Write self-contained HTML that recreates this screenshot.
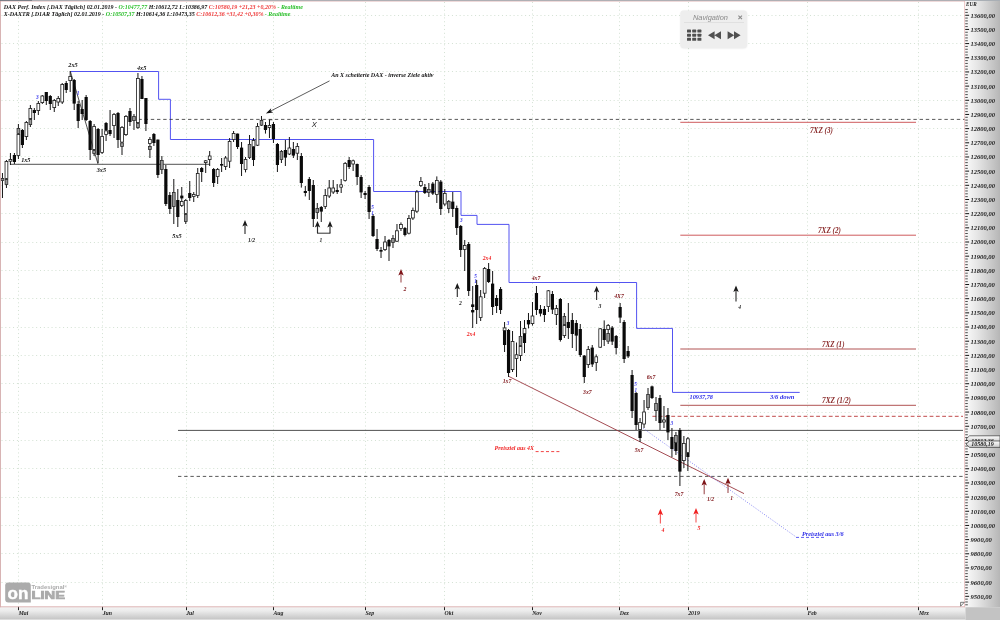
<!DOCTYPE html>
<html lang="de"><head><meta charset="utf-8"><title>DAX Perf. Index - Tradesignal Online</title>
<style>html,body{margin:0;padding:0;background:#fff;overflow:hidden}svg{display:block}text{font-family:"Liberation Serif", "DejaVu Serif", serif;font-style:italic;font-weight:bold}.s{font-family:"Liberation Sans", "DejaVu Sans", sans-serif}</style></head><body>
<svg width="1000" height="620" viewBox="0 0 1000 620">
<defs><linearGradient id="gr" x1="0" y1="0" x2="1" y2="0"><stop offset="0" stop-color="#fbfbfb"/><stop offset="0.35" stop-color="#e6e6e6"/><stop offset="1" stop-color="#b6b6b6"/></linearGradient><linearGradient id="gb" x1="0" y1="0" x2="0" y2="1"><stop offset="0" stop-color="#c9c9c9"/><stop offset="0.05" stop-color="#f2f2f2"/><stop offset="0.3" stop-color="#ececec"/><stop offset="0.93" stop-color="#c6c6c6"/><stop offset="0.96" stop-color="#dcdcdc"/><stop offset="1" stop-color="#e0e0e0"/></linearGradient><linearGradient id="gt" x1="0" y1="0" x2="1" y2="0"><stop offset="0" stop-color="#66727c"/><stop offset="0.5" stop-color="#7a858e"/><stop offset="1" stop-color="#a4acb3"/></linearGradient><linearGradient id="gm" x1="0" y1="0" x2="0" y2="1"><stop offset="0" stop-color="#ffffff"/><stop offset="1" stop-color="#c8c8c8"/></linearGradient><filter id="sh" x="-10%" y="-10%" width="120%" height="130%"><feGaussianBlur stdDeviation="0.9"/></filter></defs>
<rect x="0" y="0" width="1000" height="620" fill="#ffffff"/>
<g stroke="#d3e1d3" stroke-width="1" stroke-dasharray="1 2.85" fill="none">
<line x1="1.5" y1="15.5" x2="965" y2="15.5"/>
<line x1="1.5" y1="43.5" x2="965" y2="43.5"/>
<line x1="1.5" y1="71.5" x2="965" y2="71.5"/>
<line x1="1.5" y1="100.5" x2="965" y2="100.5"/>
<line x1="1.5" y1="128.5" x2="965" y2="128.5"/>
<line x1="1.5" y1="156.5" x2="965" y2="156.5"/>
<line x1="1.5" y1="185.5" x2="965" y2="185.5"/>
<line x1="1.5" y1="213.5" x2="965" y2="213.5"/>
<line x1="1.5" y1="242.5" x2="965" y2="242.5"/>
<line x1="1.5" y1="270.5" x2="965" y2="270.5"/>
<line x1="1.5" y1="298.5" x2="965" y2="298.5"/>
<line x1="1.5" y1="327.5" x2="965" y2="327.5"/>
<line x1="1.5" y1="355.5" x2="965" y2="355.5"/>
<line x1="1.5" y1="383.5" x2="965" y2="383.5"/>
<line x1="1.5" y1="412.5" x2="965" y2="412.5"/>
<line x1="1.5" y1="440.5" x2="965" y2="440.5"/>
<line x1="1.5" y1="468.5" x2="965" y2="468.5"/>
<line x1="1.5" y1="497.5" x2="965" y2="497.5"/>
<line x1="1.5" y1="525.5" x2="965" y2="525.5"/>
<line x1="1.5" y1="553.5" x2="965" y2="553.5"/>
<line x1="1.5" y1="582.5" x2="965" y2="582.5"/>
<line x1="18.5" y1="2" x2="18.5" y2="606.2"/>
<line x1="102.5" y1="2" x2="102.5" y2="606.2"/>
<line x1="186.5" y1="2" x2="186.5" y2="606.2"/>
<line x1="273.5" y1="2" x2="273.5" y2="606.2"/>
<line x1="365.5" y1="2" x2="365.5" y2="606.2"/>
<line x1="444.5" y1="2" x2="444.5" y2="606.2"/>
<line x1="532.5" y1="2" x2="532.5" y2="606.2"/>
<line x1="619.5" y1="2" x2="619.5" y2="606.2"/>
<line x1="688.5" y1="2" x2="688.5" y2="606.2"/>
<line x1="807.5" y1="2" x2="807.5" y2="606.2"/>
<line x1="918.5" y1="2" x2="918.5" y2="606.2"/>
</g>
<polyline fill="none" stroke="#4a4af0" stroke-width="0.95" points="70.4,71.5 158.6,71.5 158.6,99.3 170.4,99.3 170.4,139.5 373.6,139.5 373.6,191.5 461,191.5 461,215.4 477,215.4 477,224.4 509,224.4 509,282.5 636.6,282.5 636.6,328.4 672.5,328.4 672.5,392.4 799.7,392.4"/>
<line x1="10.4" y1="164.3" x2="210" y2="164.3" stroke="#333" stroke-width="0.85"/>
<line x1="178" y1="430.4" x2="963" y2="430.4" stroke="#333" stroke-width="0.85"/>
<line x1="138.4" y1="119.4" x2="965" y2="119.4" stroke="#2e2e2e" stroke-width="0.8" stroke-dasharray="3.4 2.8"/>
<line x1="178" y1="476.4" x2="965" y2="476.4" stroke="#2e2e2e" stroke-width="0.8" stroke-dasharray="3.4 2.8"/>
<line x1="70.4" y1="71.5" x2="98" y2="164" stroke="#222" stroke-width="0.8"/>
<line x1="680.3" y1="122.3" x2="916" y2="122.3" stroke="#c8474b" stroke-width="0.9"/>
<line x1="680.3" y1="235.2" x2="916" y2="235.2" stroke="#c8474b" stroke-width="0.9"/>
<line x1="680.3" y1="349" x2="916" y2="349" stroke="#a8403f" stroke-width="0.9"/>
<line x1="680.3" y1="405.3" x2="916" y2="405.3" stroke="#a8403f" stroke-width="0.9"/>
<line x1="652.4" y1="416.3" x2="963" y2="416.3" stroke="#c04a4a" stroke-width="1" stroke-dasharray="3.8 2.5"/>
<line x1="509" y1="376.5" x2="744" y2="493.6" stroke="#9a3840" stroke-width="0.9"/>
<line x1="639" y1="425.4" x2="796" y2="536.9" stroke="#6a6af0" stroke-width="0.8" stroke-dasharray="1 1.6"/>
<line x1="796" y1="537.4" x2="826" y2="537.4" stroke="#4a4af0" stroke-width="0.9" stroke-dasharray="3 2"/>
<line x1="535.6" y1="451.6" x2="561" y2="451.6" stroke="#f03030" stroke-width="0.9" stroke-dasharray="3 2.2"/>
<polyline fill="none" stroke="#333" stroke-width="0.7" points="269.5,125 269.5,119.8 272.5,119.8"/>
<g shape-rendering="auto">
<line x1="2.46" y1="173" x2="2.46" y2="198" stroke="#151515" stroke-width="1"/>
<rect x="1.11" y="178.4" width="2.7" height="2.2" fill="#9a9a9a" stroke="#2a2a2a" stroke-width="0.8"/>
<line x1="6.45" y1="160" x2="6.45" y2="188" stroke="#151515" stroke-width="1"/>
<rect x="5.04" y="161.4" width="2.8" height="17.2" fill="#ffffff" stroke="#1a1a1a" stroke-width="0.8"/>
<rect x="5.1" y="179.4" width="2.7" height="5.2" fill="#9a9a9a" stroke="#2a2a2a" stroke-width="0.8"/>
<line x1="10.43" y1="153" x2="10.43" y2="165" stroke="#151515" stroke-width="1"/>
<rect x="9.03" y="159.4" width="2.8" height="1.8" fill="#ffffff" stroke="#1a1a1a" stroke-width="0.8"/>
<line x1="14.41" y1="153" x2="14.41" y2="164" stroke="#151515" stroke-width="1"/>
<rect x="12.81" y="155" width="3.2" height="7" fill="#0a0a0a"/>
<line x1="18.4" y1="124" x2="18.4" y2="159" stroke="#151515" stroke-width="1"/>
<rect x="17.05" y="128.4" width="2.7" height="5.2" fill="#9a9a9a" stroke="#2a2a2a" stroke-width="0.8"/>
<rect x="17" y="134.4" width="2.8" height="21.2" fill="#ffffff" stroke="#1a1a1a" stroke-width="0.8"/>
<line x1="22.39" y1="129" x2="22.39" y2="148" stroke="#151515" stroke-width="1"/>
<rect x="20.79" y="130" width="3.2" height="15" fill="#0a0a0a"/>
<line x1="26.37" y1="121" x2="26.37" y2="140" stroke="#151515" stroke-width="1"/>
<rect x="24.97" y="122.4" width="2.8" height="14.2" fill="#ffffff" stroke="#1a1a1a" stroke-width="0.8"/>
<line x1="30.36" y1="105" x2="30.36" y2="127" stroke="#151515" stroke-width="1"/>
<rect x="28.96" y="108.4" width="2.8" height="10.2" fill="#ffffff" stroke="#1a1a1a" stroke-width="0.8"/>
<rect x="29" y="119.4" width="2.7" height="5.2" fill="#9a9a9a" stroke="#2a2a2a" stroke-width="0.8"/>
<line x1="34.34" y1="108" x2="34.34" y2="120" stroke="#151515" stroke-width="1"/>
<rect x="32.74" y="110" width="3.2" height="3" fill="#0a0a0a"/>
<line x1="38.33" y1="101" x2="38.33" y2="115" stroke="#151515" stroke-width="1"/>
<rect x="36.93" y="103.4" width="2.8" height="7.2" fill="#ffffff" stroke="#1a1a1a" stroke-width="0.8"/>
<line x1="42.31" y1="95" x2="42.31" y2="104" stroke="#151515" stroke-width="1"/>
<rect x="40.91" y="96" width="2.8" height="6.6" fill="#ffffff" stroke="#1a1a1a" stroke-width="0.8"/>
<line x1="46.3" y1="92" x2="46.3" y2="105" stroke="#151515" stroke-width="1"/>
<rect x="44.7" y="92" width="3.2" height="9" fill="#0a0a0a"/>
<line x1="50.28" y1="95" x2="50.28" y2="110" stroke="#151515" stroke-width="1"/>
<rect x="48.68" y="96" width="3.2" height="8" fill="#0a0a0a"/>
<line x1="54.27" y1="99" x2="54.27" y2="112" stroke="#151515" stroke-width="1"/>
<rect x="52.87" y="100.4" width="2.8" height="7.2" fill="#ffffff" stroke="#1a1a1a" stroke-width="0.8"/>
<line x1="58.25" y1="96" x2="58.25" y2="106" stroke="#151515" stroke-width="1"/>
<rect x="56.85" y="98.4" width="2.8" height="3.6" fill="#ffffff" stroke="#1a1a1a" stroke-width="0.8"/>
<line x1="62.23" y1="83" x2="62.23" y2="104" stroke="#151515" stroke-width="1"/>
<rect x="60.84" y="84.4" width="2.8" height="17.6" fill="#ffffff" stroke="#1a1a1a" stroke-width="0.8"/>
<line x1="66.22" y1="81" x2="66.22" y2="93" stroke="#151515" stroke-width="1"/>
<rect x="64.62" y="83" width="3.2" height="7" fill="#0a0a0a"/>
<line x1="70.2" y1="71" x2="70.2" y2="92" stroke="#151515" stroke-width="1"/>
<rect x="68.8" y="76.4" width="2.8" height="4.2" fill="#ffffff" stroke="#1a1a1a" stroke-width="0.8"/>
<line x1="74.19" y1="79" x2="74.19" y2="110" stroke="#151515" stroke-width="1"/>
<rect x="72.59" y="80" width="3.2" height="23.6" fill="#0a0a0a"/>
<line x1="78.17" y1="101" x2="78.17" y2="128" stroke="#151515" stroke-width="1"/>
<rect x="76.58" y="104" width="3.2" height="17" fill="#0a0a0a"/>
<line x1="82.16" y1="100" x2="82.16" y2="120" stroke="#151515" stroke-width="1"/>
<rect x="80.56" y="109" width="3.2" height="5" fill="#0a0a0a"/>
<line x1="86.14" y1="95" x2="86.14" y2="121" stroke="#151515" stroke-width="1"/>
<rect x="84.55" y="97" width="3.2" height="23" fill="#0a0a0a"/>
<line x1="90.13" y1="120" x2="90.13" y2="160" stroke="#151515" stroke-width="1"/>
<rect x="88.53" y="121" width="3.2" height="29" fill="#0a0a0a"/>
<line x1="94.11" y1="124" x2="94.11" y2="156" stroke="#151515" stroke-width="1"/>
<rect x="92.71" y="126.4" width="2.8" height="23.2" fill="#ffffff" stroke="#1a1a1a" stroke-width="0.8"/>
<rect x="92.77" y="150.4" width="2.7" height="3.2" fill="#9a9a9a" stroke="#2a2a2a" stroke-width="0.8"/>
<line x1="98.1" y1="128" x2="98.1" y2="163" stroke="#151515" stroke-width="1"/>
<rect x="96.5" y="129" width="3.2" height="26" fill="#0a0a0a"/>
<line x1="102.08" y1="129" x2="102.08" y2="154" stroke="#151515" stroke-width="1"/>
<rect x="100.68" y="136.4" width="2.8" height="16.2" fill="#ffffff" stroke="#1a1a1a" stroke-width="0.8"/>
<line x1="106.07" y1="122" x2="106.07" y2="141" stroke="#151515" stroke-width="1"/>
<rect x="104.47" y="123" width="3.2" height="7.5" fill="#0a0a0a"/>
<rect x="104.67" y="130.9" width="2.8" height="3.7" fill="#ffffff" stroke="#1a1a1a" stroke-width="0.8"/>
<line x1="110.05" y1="110" x2="110.05" y2="136" stroke="#151515" stroke-width="1"/>
<rect x="108.45" y="130" width="3.2" height="4" fill="#0a0a0a"/>
<line x1="114.04" y1="113" x2="114.04" y2="138" stroke="#151515" stroke-width="1"/>
<rect x="112.64" y="114.4" width="2.8" height="11.2" fill="#ffffff" stroke="#1a1a1a" stroke-width="0.8"/>
<line x1="118.02" y1="112" x2="118.02" y2="148" stroke="#151515" stroke-width="1"/>
<rect x="116.42" y="113" width="3.2" height="27" fill="#0a0a0a"/>
<line x1="122.01" y1="126" x2="122.01" y2="155" stroke="#151515" stroke-width="1"/>
<rect x="120.61" y="127.4" width="2.8" height="14.7" fill="#ffffff" stroke="#1a1a1a" stroke-width="0.8"/>
<rect x="120.66" y="142.9" width="2.7" height="3.7" fill="#9a9a9a" stroke="#2a2a2a" stroke-width="0.8"/>
<line x1="125.99" y1="115" x2="125.99" y2="136" stroke="#151515" stroke-width="1"/>
<rect x="124.59" y="116.4" width="2.8" height="18.2" fill="#ffffff" stroke="#1a1a1a" stroke-width="0.8"/>
<line x1="129.98" y1="108" x2="129.98" y2="126" stroke="#151515" stroke-width="1"/>
<rect x="128.38" y="111" width="3.2" height="11" fill="#0a0a0a"/>
<line x1="133.97" y1="114" x2="133.97" y2="130" stroke="#151515" stroke-width="1"/>
<rect x="132.62" y="116.4" width="2.7" height="4.2" fill="#9a9a9a" stroke="#2a2a2a" stroke-width="0.8"/>
<line x1="137.95" y1="73" x2="137.95" y2="129" stroke="#151515" stroke-width="1"/>
<rect x="136.55" y="78.4" width="2.8" height="44.2" fill="#ffffff" stroke="#1a1a1a" stroke-width="0.8"/>
<rect x="136.6" y="123.4" width="2.7" height="4.2" fill="#9a9a9a" stroke="#2a2a2a" stroke-width="0.8"/>
<line x1="141.94" y1="76" x2="141.94" y2="99" stroke="#151515" stroke-width="1"/>
<rect x="140.34" y="79" width="3.2" height="20" fill="#0a0a0a"/>
<line x1="145.92" y1="98" x2="145.92" y2="131" stroke="#151515" stroke-width="1"/>
<rect x="144.32" y="98" width="3.2" height="26" fill="#0a0a0a"/>
<line x1="149.91" y1="137" x2="149.91" y2="158" stroke="#151515" stroke-width="1"/>
<rect x="148.5" y="139.4" width="2.8" height="4.2" fill="#ffffff" stroke="#1a1a1a" stroke-width="0.8"/>
<rect x="148.56" y="146.4" width="2.7" height="3.2" fill="#9a9a9a" stroke="#2a2a2a" stroke-width="0.8"/>
<line x1="153.89" y1="133" x2="153.89" y2="146" stroke="#151515" stroke-width="1"/>
<rect x="152.29" y="134" width="3.2" height="9" fill="#0a0a0a"/>
<line x1="157.88" y1="139.6" x2="157.88" y2="178" stroke="#151515" stroke-width="1"/>
<rect x="156.28" y="139.6" width="3.2" height="35.4" fill="#0a0a0a"/>
<line x1="161.86" y1="156" x2="161.86" y2="174" stroke="#151515" stroke-width="1"/>
<rect x="160.51" y="160.4" width="2.7" height="9.2" fill="#9a9a9a" stroke="#2a2a2a" stroke-width="0.8"/>
<line x1="165.84" y1="165" x2="165.84" y2="206" stroke="#151515" stroke-width="1"/>
<rect x="164.25" y="169" width="3.2" height="35" fill="#0a0a0a"/>
<line x1="169.83" y1="192" x2="169.83" y2="214" stroke="#151515" stroke-width="1"/>
<rect x="168.23" y="195" width="3.2" height="14" fill="#0a0a0a"/>
<line x1="173.81" y1="179" x2="173.81" y2="224" stroke="#151515" stroke-width="1"/>
<rect x="172.47" y="192.4" width="2.7" height="14.2" fill="#9a9a9a" stroke="#2a2a2a" stroke-width="0.8"/>
<line x1="177.8" y1="189" x2="177.8" y2="227" stroke="#151515" stroke-width="1"/>
<rect x="176.2" y="200" width="3.2" height="17" fill="#0a0a0a"/>
<line x1="181.78" y1="187" x2="181.78" y2="207" stroke="#151515" stroke-width="1"/>
<rect x="180.19" y="195.6" width="3.2" height="2.8" fill="#0a0a0a"/>
<rect x="180.38" y="201.4" width="2.8" height="4.2" fill="#ffffff" stroke="#1a1a1a" stroke-width="0.8"/>
<line x1="185.77" y1="199" x2="185.77" y2="224" stroke="#151515" stroke-width="1"/>
<rect x="184.37" y="200.4" width="2.8" height="13.2" fill="#ffffff" stroke="#1a1a1a" stroke-width="0.8"/>
<rect x="184.42" y="214.4" width="2.7" height="7.2" fill="#9a9a9a" stroke="#2a2a2a" stroke-width="0.8"/>
<line x1="189.75" y1="181" x2="189.75" y2="201" stroke="#151515" stroke-width="1"/>
<rect x="188.16" y="193" width="3.2" height="5" fill="#0a0a0a"/>
<line x1="193.74" y1="192" x2="193.74" y2="202" stroke="#151515" stroke-width="1"/>
<rect x="192.34" y="194.4" width="2.8" height="2.2" fill="#ffffff" stroke="#1a1a1a" stroke-width="0.8"/>
<line x1="197.72" y1="168" x2="197.72" y2="198" stroke="#151515" stroke-width="1"/>
<rect x="196.32" y="173.4" width="2.8" height="22.2" fill="#ffffff" stroke="#1a1a1a" stroke-width="0.8"/>
<line x1="201.71" y1="167" x2="201.71" y2="182" stroke="#151515" stroke-width="1"/>
<rect x="200.11" y="168" width="3.2" height="4" fill="#0a0a0a"/>
<line x1="205.69" y1="160" x2="205.69" y2="173" stroke="#151515" stroke-width="1"/>
<rect x="204.29" y="160.8" width="2.8" height="1.8" fill="#ffffff" stroke="#1a1a1a" stroke-width="0.8"/>
<line x1="209.68" y1="151" x2="209.68" y2="166" stroke="#151515" stroke-width="1"/>
<rect x="208.28" y="156" width="2.8" height="3.6" fill="#ffffff" stroke="#1a1a1a" stroke-width="0.8"/>
<line x1="213.66" y1="168" x2="213.66" y2="187" stroke="#151515" stroke-width="1"/>
<rect x="212.06" y="169" width="3.2" height="14" fill="#0a0a0a"/>
<line x1="217.65" y1="168" x2="217.65" y2="184" stroke="#151515" stroke-width="1"/>
<rect x="216.25" y="169.4" width="2.8" height="7.2" fill="#ffffff" stroke="#1a1a1a" stroke-width="0.8"/>
<line x1="221.63" y1="158" x2="221.63" y2="172" stroke="#151515" stroke-width="1"/>
<rect x="220.03" y="164" width="3.2" height="1.6" fill="#0a0a0a"/>
<line x1="225.62" y1="156" x2="225.62" y2="170" stroke="#151515" stroke-width="1"/>
<rect x="224.22" y="158" width="2.8" height="8.6" fill="#ffffff" stroke="#1a1a1a" stroke-width="0.8"/>
<line x1="229.6" y1="138" x2="229.6" y2="168" stroke="#151515" stroke-width="1"/>
<rect x="228.2" y="141.4" width="2.8" height="19.8" fill="#ffffff" stroke="#1a1a1a" stroke-width="0.8"/>
<line x1="233.59" y1="131" x2="233.59" y2="142" stroke="#151515" stroke-width="1"/>
<rect x="232.19" y="133.4" width="2.8" height="6.2" fill="#ffffff" stroke="#1a1a1a" stroke-width="0.8"/>
<line x1="237.57" y1="133.6" x2="237.57" y2="149" stroke="#151515" stroke-width="1"/>
<rect x="235.97" y="133.6" width="3.2" height="13.4" fill="#0a0a0a"/>
<line x1="241.56" y1="142" x2="241.56" y2="176" stroke="#151515" stroke-width="1"/>
<rect x="239.96" y="147.6" width="3.2" height="16.4" fill="#0a0a0a"/>
<line x1="245.54" y1="157" x2="245.54" y2="172.4" stroke="#151515" stroke-width="1"/>
<rect x="244.14" y="159.4" width="2.8" height="10.2" fill="#ffffff" stroke="#1a1a1a" stroke-width="0.8"/>
<line x1="249.53" y1="135" x2="249.53" y2="159" stroke="#151515" stroke-width="1"/>
<rect x="248.18" y="144.4" width="2.7" height="13.2" fill="#9a9a9a" stroke="#2a2a2a" stroke-width="0.8"/>
<line x1="253.51" y1="138" x2="253.51" y2="166" stroke="#151515" stroke-width="1"/>
<rect x="252.11" y="140.4" width="2.8" height="6.2" fill="#ffffff" stroke="#1a1a1a" stroke-width="0.8"/>
<rect x="251.91" y="147" width="3.2" height="13" fill="#0a0a0a"/>
<line x1="257.5" y1="123" x2="257.5" y2="146" stroke="#151515" stroke-width="1"/>
<rect x="256.1" y="126.4" width="2.8" height="18.8" fill="#ffffff" stroke="#1a1a1a" stroke-width="0.8"/>
<line x1="261.48" y1="116" x2="261.48" y2="126" stroke="#151515" stroke-width="1"/>
<rect x="260.13" y="120.4" width="2.7" height="4.8" fill="#9a9a9a" stroke="#2a2a2a" stroke-width="0.8"/>
<line x1="265.47" y1="122" x2="265.47" y2="133.6" stroke="#151515" stroke-width="1"/>
<rect x="263.87" y="125" width="3.2" height="5" fill="#0a0a0a"/>
<line x1="269.45" y1="119.6" x2="269.45" y2="138" stroke="#151515" stroke-width="1"/>
<rect x="268.06" y="125.4" width="2.8" height="2.2" fill="#ffffff" stroke="#1a1a1a" stroke-width="0.8"/>
<line x1="273.44" y1="122" x2="273.44" y2="143" stroke="#151515" stroke-width="1"/>
<rect x="271.84" y="124" width="3.2" height="15" fill="#0a0a0a"/>
<line x1="277.42" y1="143" x2="277.42" y2="172" stroke="#151515" stroke-width="1"/>
<rect x="275.82" y="144" width="3.2" height="21" fill="#0a0a0a"/>
<line x1="281.41" y1="150" x2="281.41" y2="163" stroke="#151515" stroke-width="1"/>
<rect x="280.06" y="151.4" width="2.7" height="8.2" fill="#9a9a9a" stroke="#2a2a2a" stroke-width="0.8"/>
<line x1="285.39" y1="140" x2="285.39" y2="166" stroke="#151515" stroke-width="1"/>
<rect x="283.79" y="150" width="3.2" height="7.6" fill="#0a0a0a"/>
<line x1="289.38" y1="137" x2="289.38" y2="155" stroke="#151515" stroke-width="1"/>
<rect x="287.98" y="148" width="2.8" height="6" fill="#ffffff" stroke="#1a1a1a" stroke-width="0.8"/>
<line x1="293.36" y1="142" x2="293.36" y2="158" stroke="#151515" stroke-width="1"/>
<rect x="291.76" y="149" width="3.2" height="6.6" fill="#0a0a0a"/>
<line x1="297.35" y1="143" x2="297.35" y2="160" stroke="#151515" stroke-width="1"/>
<rect x="295.95" y="146.4" width="2.8" height="6.8" fill="#ffffff" stroke="#1a1a1a" stroke-width="0.8"/>
<line x1="301.33" y1="153" x2="301.33" y2="187.6" stroke="#151515" stroke-width="1"/>
<rect x="299.73" y="156" width="3.2" height="27" fill="#0a0a0a"/>
<line x1="305.32" y1="186" x2="305.32" y2="196.4" stroke="#151515" stroke-width="1"/>
<rect x="303.72" y="191" width="3.2" height="2" fill="#0a0a0a"/>
<line x1="309.3" y1="177" x2="309.3" y2="200" stroke="#151515" stroke-width="1"/>
<rect x="307.7" y="179" width="3.2" height="12" fill="#0a0a0a"/>
<line x1="313.29" y1="180" x2="313.29" y2="227" stroke="#151515" stroke-width="1"/>
<rect x="311.69" y="185" width="3.2" height="34" fill="#0a0a0a"/>
<line x1="317.27" y1="203" x2="317.27" y2="219" stroke="#151515" stroke-width="1"/>
<rect x="315.92" y="208.4" width="2.7" height="4.2" fill="#9a9a9a" stroke="#2a2a2a" stroke-width="0.8"/>
<line x1="321.26" y1="206" x2="321.26" y2="222" stroke="#151515" stroke-width="1"/>
<rect x="319.66" y="207" width="3.2" height="4.6" fill="#0a0a0a"/>
<line x1="325.24" y1="189" x2="325.24" y2="209" stroke="#151515" stroke-width="1"/>
<rect x="323.84" y="195.4" width="2.8" height="11.2" fill="#ffffff" stroke="#1a1a1a" stroke-width="0.8"/>
<line x1="329.23" y1="180" x2="329.23" y2="198" stroke="#151515" stroke-width="1"/>
<rect x="327.83" y="188" width="2.8" height="8" fill="#ffffff" stroke="#1a1a1a" stroke-width="0.8"/>
<line x1="333.21" y1="180" x2="333.21" y2="194" stroke="#151515" stroke-width="1"/>
<rect x="331.81" y="188" width="2.8" height="4" fill="#ffffff" stroke="#1a1a1a" stroke-width="0.8"/>
<line x1="337.2" y1="184" x2="337.2" y2="194" stroke="#151515" stroke-width="1"/>
<rect x="335.6" y="190" width="3.2" height="2" fill="#0a0a0a"/>
<line x1="341.18" y1="179" x2="341.18" y2="193" stroke="#151515" stroke-width="1"/>
<rect x="339.78" y="184.8" width="2.8" height="2.4" fill="#ffffff" stroke="#1a1a1a" stroke-width="0.8"/>
<line x1="345.17" y1="162" x2="345.17" y2="181.6" stroke="#151515" stroke-width="1"/>
<rect x="343.77" y="163.4" width="2.8" height="17.2" fill="#ffffff" stroke="#1a1a1a" stroke-width="0.8"/>
<line x1="349.15" y1="157" x2="349.15" y2="169" stroke="#151515" stroke-width="1"/>
<rect x="347.55" y="160" width="3.2" height="7" fill="#0a0a0a"/>
<line x1="353.14" y1="159.6" x2="353.14" y2="171" stroke="#151515" stroke-width="1"/>
<rect x="351.74" y="160.8" width="2.8" height="3.2" fill="#ffffff" stroke="#1a1a1a" stroke-width="0.8"/>
<line x1="357.12" y1="163.6" x2="357.12" y2="185" stroke="#151515" stroke-width="1"/>
<rect x="355.52" y="164" width="3.2" height="13" fill="#0a0a0a"/>
<line x1="361.11" y1="175" x2="361.11" y2="198" stroke="#151515" stroke-width="1"/>
<rect x="359.51" y="177" width="3.2" height="15.4" fill="#0a0a0a"/>
<line x1="365.09" y1="191" x2="365.09" y2="199" stroke="#151515" stroke-width="1"/>
<rect x="363.49" y="193" width="3.2" height="2" fill="#0a0a0a"/>
<line x1="369.08" y1="185" x2="369.08" y2="219" stroke="#151515" stroke-width="1"/>
<rect x="367.48" y="187" width="3.2" height="25" fill="#0a0a0a"/>
<line x1="373.06" y1="214" x2="373.06" y2="237" stroke="#151515" stroke-width="1"/>
<rect x="371.46" y="216" width="3.2" height="20" fill="#0a0a0a"/>
<line x1="377.05" y1="229" x2="377.05" y2="251" stroke="#151515" stroke-width="1"/>
<rect x="375.45" y="239" width="3.2" height="10" fill="#0a0a0a"/>
<line x1="381.03" y1="247" x2="381.03" y2="258" stroke="#151515" stroke-width="1"/>
<rect x="379.43" y="250" width="3.2" height="1.6" fill="#0a0a0a"/>
<line x1="385.02" y1="236" x2="385.02" y2="251" stroke="#151515" stroke-width="1"/>
<rect x="383.62" y="242" width="2.8" height="7.6" fill="#ffffff" stroke="#1a1a1a" stroke-width="0.8"/>
<line x1="389" y1="239" x2="389" y2="261" stroke="#151515" stroke-width="1"/>
<rect x="387.4" y="240" width="3.2" height="6.4" fill="#0a0a0a"/>
<line x1="392.99" y1="235" x2="392.99" y2="248" stroke="#151515" stroke-width="1"/>
<rect x="391.64" y="238.4" width="2.7" height="4.2" fill="#9a9a9a" stroke="#2a2a2a" stroke-width="0.8"/>
<line x1="396.97" y1="224" x2="396.97" y2="242" stroke="#151515" stroke-width="1"/>
<rect x="395.57" y="230.8" width="2.8" height="10.4" fill="#ffffff" stroke="#1a1a1a" stroke-width="0.8"/>
<line x1="400.96" y1="222.4" x2="400.96" y2="231" stroke="#151515" stroke-width="1"/>
<rect x="399.56" y="224.4" width="2.8" height="4.2" fill="#ffffff" stroke="#1a1a1a" stroke-width="0.8"/>
<line x1="404.94" y1="227" x2="404.94" y2="236.4" stroke="#151515" stroke-width="1"/>
<rect x="403.34" y="228" width="3.2" height="7" fill="#0a0a0a"/>
<line x1="408.93" y1="215" x2="408.93" y2="234.4" stroke="#151515" stroke-width="1"/>
<rect x="407.53" y="218.4" width="2.8" height="14.8" fill="#ffffff" stroke="#1a1a1a" stroke-width="0.8"/>
<line x1="412.91" y1="207.6" x2="412.91" y2="220" stroke="#151515" stroke-width="1"/>
<rect x="411.51" y="210.4" width="2.8" height="7.6" fill="#ffffff" stroke="#1a1a1a" stroke-width="0.8"/>
<line x1="416.9" y1="190" x2="416.9" y2="213" stroke="#151515" stroke-width="1"/>
<rect x="415.5" y="192" width="2.8" height="19.2" fill="#ffffff" stroke="#1a1a1a" stroke-width="0.8"/>
<line x1="420.88" y1="177" x2="420.88" y2="187" stroke="#151515" stroke-width="1"/>
<rect x="419.49" y="181.4" width="2.8" height="4.2" fill="#ffffff" stroke="#1a1a1a" stroke-width="0.8"/>
<line x1="424.87" y1="184" x2="424.87" y2="194" stroke="#151515" stroke-width="1"/>
<rect x="423.27" y="187" width="3.2" height="6" fill="#0a0a0a"/>
<line x1="428.85" y1="183" x2="428.85" y2="197" stroke="#151515" stroke-width="1"/>
<rect x="427.5" y="189.4" width="2.7" height="3.2" fill="#9a9a9a" stroke="#2a2a2a" stroke-width="0.8"/>
<line x1="432.84" y1="182" x2="432.84" y2="195" stroke="#151515" stroke-width="1"/>
<rect x="431.24" y="183.6" width="3.2" height="10" fill="#0a0a0a"/>
<line x1="436.82" y1="176.4" x2="436.82" y2="203" stroke="#151515" stroke-width="1"/>
<rect x="435.43" y="180.4" width="2.8" height="14.2" fill="#ffffff" stroke="#1a1a1a" stroke-width="0.8"/>
<line x1="440.81" y1="180" x2="440.81" y2="215" stroke="#151515" stroke-width="1"/>
<rect x="439.21" y="181.6" width="3.2" height="27.4" fill="#0a0a0a"/>
<line x1="444.79" y1="189" x2="444.79" y2="206" stroke="#151515" stroke-width="1"/>
<rect x="443.39" y="193.4" width="2.8" height="10.6" fill="#ffffff" stroke="#1a1a1a" stroke-width="0.8"/>
<line x1="448.78" y1="200" x2="448.78" y2="213" stroke="#151515" stroke-width="1"/>
<rect x="447.43" y="201.4" width="2.7" height="7.2" fill="#9a9a9a" stroke="#2a2a2a" stroke-width="0.8"/>
<line x1="452.76" y1="192" x2="452.76" y2="217" stroke="#151515" stroke-width="1"/>
<rect x="451.16" y="201.6" width="3.2" height="7.4" fill="#0a0a0a"/>
<line x1="456.75" y1="205.6" x2="456.75" y2="235" stroke="#151515" stroke-width="1"/>
<rect x="455.15" y="208" width="3.2" height="20" fill="#0a0a0a"/>
<line x1="460.73" y1="225" x2="460.73" y2="257" stroke="#151515" stroke-width="1"/>
<rect x="459.13" y="226" width="3.2" height="24" fill="#0a0a0a"/>
<line x1="464.72" y1="240" x2="464.72" y2="271" stroke="#151515" stroke-width="1"/>
<rect x="463.32" y="245.4" width="2.8" height="4.2" fill="#ffffff" stroke="#1a1a1a" stroke-width="0.8"/>
<line x1="468.7" y1="242" x2="468.7" y2="296" stroke="#151515" stroke-width="1"/>
<rect x="467.1" y="244" width="3.2" height="47" fill="#0a0a0a"/>
<line x1="472.69" y1="286" x2="472.69" y2="328" stroke="#151515" stroke-width="1"/>
<rect x="471.09" y="304.4" width="3.2" height="2.6" fill="#0a0a0a"/>
<rect x="471.09" y="310" width="3.2" height="2.4" fill="#0a0a0a"/>
<line x1="476.67" y1="280" x2="476.67" y2="324" stroke="#151515" stroke-width="1"/>
<rect x="475.07" y="285" width="3.2" height="25" fill="#0a0a0a"/>
<line x1="480.66" y1="290" x2="480.66" y2="321" stroke="#151515" stroke-width="1"/>
<rect x="479.26" y="296.8" width="2.8" height="20.8" fill="#ffffff" stroke="#1a1a1a" stroke-width="0.8"/>
<line x1="484.64" y1="267" x2="484.64" y2="298" stroke="#151515" stroke-width="1"/>
<rect x="483.25" y="268.4" width="2.8" height="24.8" fill="#ffffff" stroke="#1a1a1a" stroke-width="0.8"/>
<line x1="488.63" y1="263" x2="488.63" y2="283" stroke="#151515" stroke-width="1"/>
<rect x="487.03" y="269" width="3.2" height="13" fill="#0a0a0a"/>
<line x1="492.61" y1="271" x2="492.61" y2="315" stroke="#151515" stroke-width="1"/>
<rect x="491.01" y="283.6" width="3.2" height="23.4" fill="#0a0a0a"/>
<line x1="496.6" y1="295" x2="496.6" y2="313" stroke="#151515" stroke-width="1"/>
<rect x="495" y="298" width="3.2" height="8" fill="#0a0a0a"/>
<line x1="500.58" y1="287" x2="500.58" y2="314" stroke="#151515" stroke-width="1"/>
<rect x="498.98" y="289" width="3.2" height="21" fill="#0a0a0a"/>
<line x1="504.57" y1="322" x2="504.57" y2="352" stroke="#151515" stroke-width="1"/>
<rect x="503.17" y="327.9" width="2.8" height="2.7" fill="#ffffff" stroke="#1a1a1a" stroke-width="0.8"/>
<rect x="502.97" y="331" width="3.2" height="14" fill="#0a0a0a"/>
<line x1="508.55" y1="329" x2="508.55" y2="377" stroke="#151515" stroke-width="1"/>
<rect x="506.95" y="330" width="3.2" height="43" fill="#0a0a0a"/>
<line x1="512.54" y1="331" x2="512.54" y2="372" stroke="#151515" stroke-width="1"/>
<rect x="511.14" y="341.4" width="2.8" height="28.2" fill="#ffffff" stroke="#1a1a1a" stroke-width="0.8"/>
<line x1="516.52" y1="342.5" x2="516.52" y2="377" stroke="#151515" stroke-width="1"/>
<rect x="515.12" y="354.8" width="2.8" height="3.8" fill="#ffffff" stroke="#1a1a1a" stroke-width="0.8"/>
<line x1="520.51" y1="321" x2="520.51" y2="361" stroke="#151515" stroke-width="1"/>
<rect x="519.16" y="336.4" width="2.7" height="9.2" fill="#9a9a9a" stroke="#2a2a2a" stroke-width="0.8"/>
<rect x="519.11" y="346.4" width="2.8" height="9.2" fill="#ffffff" stroke="#1a1a1a" stroke-width="0.8"/>
<line x1="524.5" y1="320" x2="524.5" y2="353" stroke="#151515" stroke-width="1"/>
<rect x="523.1" y="328.4" width="2.8" height="5.2" fill="#ffffff" stroke="#1a1a1a" stroke-width="0.8"/>
<rect x="522.89" y="334" width="3.2" height="9" fill="#0a0a0a"/>
<line x1="528.48" y1="313" x2="528.48" y2="328.4" stroke="#151515" stroke-width="1"/>
<rect x="526.88" y="320" width="3.2" height="4.4" fill="#0a0a0a"/>
<line x1="532.47" y1="302" x2="532.47" y2="325.6" stroke="#151515" stroke-width="1"/>
<rect x="531.07" y="316" width="2.8" height="7.6" fill="#ffffff" stroke="#1a1a1a" stroke-width="0.8"/>
<line x1="536.45" y1="286" x2="536.45" y2="315" stroke="#151515" stroke-width="1"/>
<rect x="534.85" y="293" width="3.2" height="17" fill="#0a0a0a"/>
<line x1="540.44" y1="305" x2="540.44" y2="316.4" stroke="#151515" stroke-width="1"/>
<rect x="538.84" y="309" width="3.2" height="4.6" fill="#0a0a0a"/>
<line x1="544.42" y1="306" x2="544.42" y2="322" stroke="#151515" stroke-width="1"/>
<rect x="542.82" y="309" width="3.2" height="6" fill="#0a0a0a"/>
<line x1="548.4" y1="290" x2="548.4" y2="312" stroke="#151515" stroke-width="1"/>
<rect x="547" y="290.8" width="2.8" height="15.8" fill="#ffffff" stroke="#1a1a1a" stroke-width="0.8"/>
<line x1="552.39" y1="291" x2="552.39" y2="314" stroke="#151515" stroke-width="1"/>
<rect x="550.79" y="294" width="3.2" height="15.6" fill="#0a0a0a"/>
<line x1="556.38" y1="305" x2="556.38" y2="325" stroke="#151515" stroke-width="1"/>
<rect x="554.98" y="308.4" width="2.8" height="6.2" fill="#ffffff" stroke="#1a1a1a" stroke-width="0.8"/>
<line x1="560.36" y1="298" x2="560.36" y2="341.6" stroke="#151515" stroke-width="1"/>
<rect x="558.76" y="299" width="3.2" height="41" fill="#0a0a0a"/>
<line x1="564.35" y1="313" x2="564.35" y2="338" stroke="#151515" stroke-width="1"/>
<rect x="563" y="316.4" width="2.7" height="8.2" fill="#9a9a9a" stroke="#2a2a2a" stroke-width="0.8"/>
<rect x="562.95" y="325.4" width="2.8" height="10.2" fill="#ffffff" stroke="#1a1a1a" stroke-width="0.8"/>
<line x1="568.33" y1="303" x2="568.33" y2="339" stroke="#151515" stroke-width="1"/>
<rect x="566.73" y="322" width="3.2" height="6" fill="#0a0a0a"/>
<line x1="572.32" y1="313" x2="572.32" y2="348" stroke="#151515" stroke-width="1"/>
<rect x="570.72" y="320" width="3.2" height="14" fill="#0a0a0a"/>
<line x1="576.3" y1="320" x2="576.3" y2="351" stroke="#151515" stroke-width="1"/>
<rect x="574.7" y="323" width="3.2" height="12.6" fill="#0a0a0a"/>
<line x1="580.28" y1="324" x2="580.28" y2="357" stroke="#151515" stroke-width="1"/>
<rect x="578.68" y="329" width="3.2" height="26" fill="#0a0a0a"/>
<line x1="584.27" y1="355" x2="584.27" y2="383" stroke="#151515" stroke-width="1"/>
<rect x="582.67" y="355.6" width="3.2" height="21.4" fill="#0a0a0a"/>
<line x1="588.25" y1="346" x2="588.25" y2="368" stroke="#151515" stroke-width="1"/>
<rect x="586.86" y="349.4" width="2.8" height="15.2" fill="#ffffff" stroke="#1a1a1a" stroke-width="0.8"/>
<line x1="592.24" y1="345" x2="592.24" y2="367" stroke="#151515" stroke-width="1"/>
<rect x="590.64" y="347.6" width="3.2" height="16.8" fill="#0a0a0a"/>
<line x1="596.23" y1="354.4" x2="596.23" y2="371" stroke="#151515" stroke-width="1"/>
<rect x="594.83" y="356.8" width="2.8" height="5.8" fill="#ffffff" stroke="#1a1a1a" stroke-width="0.8"/>
<line x1="600.21" y1="328" x2="600.21" y2="348" stroke="#151515" stroke-width="1"/>
<rect x="598.81" y="328.8" width="2.8" height="18.4" fill="#ffffff" stroke="#1a1a1a" stroke-width="0.8"/>
<line x1="604.2" y1="320.4" x2="604.2" y2="346" stroke="#151515" stroke-width="1"/>
<rect x="602.6" y="329" width="3.2" height="11" fill="#0a0a0a"/>
<line x1="608.18" y1="324" x2="608.18" y2="344" stroke="#151515" stroke-width="1"/>
<rect x="606.78" y="325.4" width="2.8" height="4.2" fill="#ffffff" stroke="#1a1a1a" stroke-width="0.8"/>
<rect x="606.83" y="333.4" width="2.7" height="7.8" fill="#9a9a9a" stroke="#2a2a2a" stroke-width="0.8"/>
<line x1="612.16" y1="326" x2="612.16" y2="345" stroke="#151515" stroke-width="1"/>
<rect x="610.56" y="327.6" width="3.2" height="14" fill="#0a0a0a"/>
<line x1="616.15" y1="335" x2="616.15" y2="354.4" stroke="#151515" stroke-width="1"/>
<rect x="614.55" y="336" width="3.2" height="12" fill="#0a0a0a"/>
<line x1="620.13" y1="303" x2="620.13" y2="323" stroke="#151515" stroke-width="1"/>
<rect x="618.53" y="307" width="3.2" height="10.6" fill="#0a0a0a"/>
<line x1="624.12" y1="320" x2="624.12" y2="363" stroke="#151515" stroke-width="1"/>
<rect x="622.52" y="322" width="3.2" height="37" fill="#0a0a0a"/>
<line x1="628.11" y1="346" x2="628.11" y2="358" stroke="#151515" stroke-width="1"/>
<rect x="626.5" y="351" width="3.2" height="5.4" fill="#0a0a0a"/>
<line x1="632.09" y1="370" x2="632.09" y2="418" stroke="#151515" stroke-width="1"/>
<rect x="630.49" y="375" width="3.2" height="36" fill="#0a0a0a"/>
<line x1="636.08" y1="392" x2="636.08" y2="430" stroke="#151515" stroke-width="1"/>
<rect x="634.48" y="393" width="3.2" height="32" fill="#0a0a0a"/>
<line x1="640.06" y1="418" x2="640.06" y2="442" stroke="#151515" stroke-width="1"/>
<rect x="638.66" y="422.4" width="2.8" height="7.2" fill="#ffffff" stroke="#1a1a1a" stroke-width="0.8"/>
<rect x="638.46" y="431" width="3.2" height="7" fill="#0a0a0a"/>
<line x1="644.05" y1="400" x2="644.05" y2="428" stroke="#151515" stroke-width="1"/>
<rect x="642.65" y="412" width="2.8" height="12" fill="#ffffff" stroke="#1a1a1a" stroke-width="0.8"/>
<line x1="648.03" y1="388" x2="648.03" y2="410" stroke="#151515" stroke-width="1"/>
<rect x="646.68" y="394.4" width="2.7" height="13.2" fill="#9a9a9a" stroke="#2a2a2a" stroke-width="0.8"/>
<line x1="652.01" y1="385.6" x2="652.01" y2="399" stroke="#151515" stroke-width="1"/>
<rect x="650.41" y="386.4" width="3.2" height="11.6" fill="#0a0a0a"/>
<line x1="656" y1="397" x2="656" y2="421" stroke="#151515" stroke-width="1"/>
<rect x="654.65" y="403.4" width="2.7" height="7.2" fill="#9a9a9a" stroke="#2a2a2a" stroke-width="0.8"/>
<line x1="659.99" y1="395" x2="659.99" y2="430" stroke="#151515" stroke-width="1"/>
<rect x="658.38" y="398" width="3.2" height="25" fill="#0a0a0a"/>
<line x1="663.97" y1="406" x2="663.97" y2="428" stroke="#151515" stroke-width="1"/>
<rect x="662.57" y="420" width="2.8" height="2" fill="#ffffff" stroke="#1a1a1a" stroke-width="0.8"/>
<line x1="667.96" y1="408" x2="667.96" y2="440" stroke="#151515" stroke-width="1"/>
<rect x="666.36" y="415" width="3.2" height="17.4" fill="#0a0a0a"/>
<line x1="671.94" y1="428" x2="671.94" y2="457" stroke="#151515" stroke-width="1"/>
<rect x="670.34" y="437" width="3.2" height="12" fill="#0a0a0a"/>
<line x1="675.93" y1="432" x2="675.93" y2="455" stroke="#151515" stroke-width="1"/>
<rect x="674.58" y="435.4" width="2.7" height="7.2" fill="#9a9a9a" stroke="#2a2a2a" stroke-width="0.8"/>
<rect x="674.33" y="443" width="3.2" height="8" fill="#0a0a0a"/>
<line x1="679.91" y1="428" x2="679.91" y2="486" stroke="#151515" stroke-width="1"/>
<rect x="678.31" y="430" width="3.2" height="41.6" fill="#0a0a0a"/>
<line x1="683.89" y1="436" x2="683.89" y2="468" stroke="#151515" stroke-width="1"/>
<rect x="682.5" y="443.4" width="2.8" height="17.2" fill="#ffffff" stroke="#1a1a1a" stroke-width="0.8"/>
<line x1="687.88" y1="437" x2="687.88" y2="471" stroke="#151515" stroke-width="1"/>
<rect x="686.48" y="438.8" width="2.8" height="13.8" fill="#ffffff" stroke="#1a1a1a" stroke-width="0.8"/>
<rect x="686.28" y="453" width="3.2" height="4" fill="#0a0a0a"/>
</g>
<line x1="245" y1="222" x2="245" y2="234" stroke="#1a1a1a" stroke-width="1.15" opacity="0.9"/>
<polygon points="245,220 247.7,226.6 245,225.1 242.3,226.6" fill="#1a1a1a"/>
<line x1="317.5" y1="223" x2="317.5" y2="233.2" stroke="#1a1a1a" stroke-width="1.15" opacity="0.9"/>
<polygon points="317.5,221 320.2,227.6 317.5,226.1 314.8,227.6" fill="#1a1a1a"/>
<line x1="330" y1="223" x2="330" y2="233.2" stroke="#1a1a1a" stroke-width="1.15" opacity="0.9"/>
<polygon points="330,221 332.7,227.6 330,226.1 327.3,227.6" fill="#1a1a1a"/>
<line x1="317.1" y1="233.2" x2="330.4" y2="233.2" stroke="#1a1a1a" stroke-width="0.9"/>
<line x1="401" y1="271" x2="401" y2="282.5" stroke="#7e1418" stroke-width="1.15" opacity="0.72"/>
<polygon points="401,269 403.7,275.6 401,274.1 398.3,275.6" fill="#7e1418"/>
<line x1="457.3" y1="285" x2="457.3" y2="297" stroke="#1a1a1a" stroke-width="1.15" opacity="0.9"/>
<polygon points="457.3,283 460,289.6 457.3,288.1 454.6,289.6" fill="#1a1a1a"/>
<line x1="596.6" y1="288" x2="596.6" y2="300" stroke="#1a1a1a" stroke-width="1.15" opacity="0.9"/>
<polygon points="596.6,286 599.3,292.6 596.6,291.1 593.9,292.6" fill="#1a1a1a"/>
<line x1="736" y1="287.5" x2="736" y2="301.6" stroke="#1a1a1a" stroke-width="1.15" opacity="0.9"/>
<polygon points="736,285.5 738.7,292.1 736,290.6 733.3,292.1" fill="#1a1a1a"/>
<line x1="704.2" y1="481" x2="704.2" y2="494.2" stroke="#7e1418" stroke-width="1.15" opacity="0.72"/>
<polygon points="704.2,479 706.9,485.6 704.2,484.1 701.5,485.6" fill="#7e1418"/>
<line x1="728" y1="479.7" x2="728" y2="493" stroke="#7e1418" stroke-width="1.15" opacity="0.72"/>
<polygon points="728,477.7 730.7,484.3 728,482.8 725.3,484.3" fill="#7e1418"/>
<line x1="660.4" y1="510.7" x2="660.4" y2="523.6" stroke="#f02020" stroke-width="1.15" opacity="0.72"/>
<polygon points="660.4,508.7 663.1,515.3 660.4,513.8 657.7,515.3" fill="#f02020"/>
<line x1="696" y1="510" x2="696" y2="522.4" stroke="#f02020" stroke-width="1.15" opacity="0.72"/>
<polygon points="696,508 698.7,514.6 696,513.1 693.3,514.6" fill="#f02020"/>
<line x1="329.5" y1="80.9" x2="268" y2="112.4" stroke="#333" stroke-width="0.8"/>
<polygon points="265.9,113.5 271.2,108.3 270.6,111.1 273.2,112.4" fill="#111"/>
<text x="3.8" y="9" font-size="6.7" textLength="299" lengthAdjust="spacingAndGlyphs" style="white-space:pre"><tspan fill="#111">DAX Perf. Index [.DAX Täglich] 02.01.2019 - </tspan><tspan fill="#2cc02c">O:10477,77</tspan><tspan fill="#111"> H:10612,72 L:10386,97 </tspan><tspan fill="#f03c3c">C:10580,19 +21,23 +0,20%</tspan><tspan fill="#2cc02c"> - Realtime</tspan></text>
<text x="3.8" y="16.4" font-size="6.7" textLength="286.5" lengthAdjust="spacingAndGlyphs" style="white-space:pre"><tspan fill="#111">X-DAXTR [.D1AR Täglich] 02.01.2019 - </tspan><tspan fill="#2cc02c">O:10507,37</tspan><tspan fill="#111"> H:10614,36 L:10473,35 </tspan><tspan fill="#f03c3c">C:10612,36 +31,42 +0,30%</tspan><tspan fill="#2cc02c"> - Realtime</tspan></text>
<text x="73" y="66.5" font-size="6.2" fill="#111" text-anchor="middle">2x5</text>
<text x="141.6" y="70.4" font-size="6.2" fill="#111" text-anchor="middle">4x5</text>
<text x="25.8" y="162.4" font-size="6.2" fill="#111" text-anchor="middle">1x5</text>
<text x="101.4" y="171.8" font-size="6.2" fill="#111" text-anchor="middle">3x5</text>
<text x="177" y="237.6" font-size="6.2" fill="#111" text-anchor="middle">5x5</text>
<text x="37.4" y="99.4" font-size="5.4" fill="#3c3cf0" text-anchor="middle">3</text>
<text x="78" y="95" font-size="5.4" fill="#3c3cf0" text-anchor="middle">1</text>
<text x="331.2" y="77.4" font-size="5.8" fill="#111" textLength="102.3" lengthAdjust="spacingAndGlyphs">An X scheiterte DAX - inverse Ziele aktiv</text>
<text x="314.3" y="127.4" font-size="7.6" fill="#222" text-anchor="middle" class="s" style="font-weight:normal">X</text>
<text x="251.5" y="242" font-size="5.6" fill="#222" text-anchor="middle">1/2</text>
<text x="321" y="242" font-size="5.6" fill="#222" text-anchor="middle">1</text>
<text x="405" y="290.6" font-size="5.8" fill="#7e1418" text-anchor="middle">2</text>
<text x="460.4" y="304.8" font-size="5.6" fill="#222" text-anchor="middle">2</text>
<text x="372.6" y="209.4" font-size="5.2" fill="#3c3cf0" text-anchor="middle">5</text>
<text x="372.6" y="215.4" font-size="5.2" fill="#3c3cf0" text-anchor="middle">1</text>
<text x="461.2" y="222" font-size="5.2" fill="#3c3cf0" text-anchor="middle">3</text>
<text x="475.6" y="277.6" font-size="5.2" fill="#3c3cf0" text-anchor="middle">5</text>
<text x="475.6" y="283.4" font-size="5.2" fill="#3c3cf0" text-anchor="middle">1</text>
<text x="508" y="325" font-size="5.2" fill="#3c3cf0" text-anchor="middle">3</text>
<text x="635.6" y="386.2" font-size="5.2" fill="#3c3cf0" text-anchor="middle">5</text>
<text x="635.8" y="392" font-size="5.2" fill="#3c3cf0" text-anchor="middle">1</text>
<text x="671.8" y="425.2" font-size="5.2" fill="#3c3cf0" text-anchor="middle">3</text>
<text x="487" y="260" font-size="5.6" fill="#f02020" text-anchor="middle">2x4</text>
<text x="471" y="336.4" font-size="5.6" fill="#f02020" text-anchor="middle">2x4</text>
<text x="536" y="280" font-size="5.8" fill="#7e1418" text-anchor="middle">4x7</text>
<text x="619" y="298" font-size="5.8" fill="#7e1418" text-anchor="middle">4X7</text>
<text x="600" y="308" font-size="5.8" fill="#222" text-anchor="middle">3</text>
<text x="507" y="383" font-size="5.8" fill="#7e1418" text-anchor="middle">1x7</text>
<text x="587.4" y="394.4" font-size="5.8" fill="#7e1418" text-anchor="middle">3x7</text>
<text x="651" y="379" font-size="5.8" fill="#7e1418" text-anchor="middle">6x7</text>
<text x="639" y="452.4" font-size="5.8" fill="#7e1418" text-anchor="middle">5x7</text>
<text x="679" y="496" font-size="5.8" fill="#7e1418" text-anchor="middle">7x7</text>
<text x="710.6" y="501" font-size="5.6" fill="#7e1418" text-anchor="middle">1/2</text>
<text x="731.6" y="500" font-size="5.6" fill="#7e1418" text-anchor="middle">1</text>
<text x="663" y="531.6" font-size="5.8" fill="#f02020" text-anchor="middle">4</text>
<text x="699" y="530.4" font-size="5.8" fill="#f02020" text-anchor="middle">5</text>
<text x="739.7" y="309" font-size="5.6" fill="#222" text-anchor="middle">4</text>
<text x="494.6" y="450.4" font-size="5.8" fill="#f02020" textLength="39.4" lengthAdjust="spacingAndGlyphs">Preisziel aus 4X</text>
<text x="802" y="535.6" font-size="5.8" fill="#3030e8" textLength="41.5" lengthAdjust="spacingAndGlyphs">Preisziel aus 3/6</text>
<text x="689.5" y="399" font-size="5.6" fill="#3030e8" textLength="23.5" lengthAdjust="spacingAndGlyphs">10937,78</text>
<text x="770" y="399.4" font-size="5.8" fill="#3030e8" textLength="24.5" lengthAdjust="spacingAndGlyphs">3/6 down</text>
<text x="810" y="133.2" font-size="7.6" fill="#8a2a2a" textLength="23" lengthAdjust="spacingAndGlyphs">7XZ (3)</text>
<text x="818" y="232.6" font-size="7.6" fill="#8a2a2a" textLength="23" lengthAdjust="spacingAndGlyphs">7XZ (2)</text>
<text x="822" y="346.6" font-size="7.6" fill="#8a2a2a" textLength="22.5" lengthAdjust="spacingAndGlyphs">7XZ (1)</text>
<text x="822" y="402.6" font-size="7.6" fill="#8a2a2a" textLength="29" lengthAdjust="spacingAndGlyphs">7XZ (1/2)</text>
<rect x="965" y="1" width="35" height="606.2" fill="url(#gr)"/>
<g stroke="#2a2a2a" stroke-width="0.9">
<line x1="965.2" y1="9.58" x2="967.8" y2="9.58" stroke="#3a3a3a"/>
<line x1="965.2" y1="12.42" x2="967.8" y2="12.42" stroke="#3a3a3a"/>
<line x1="965.2" y1="15.25" x2="969.1" y2="15.25" stroke="#111" stroke-width="1"/>
<line x1="965.2" y1="18.08" x2="967.8" y2="18.08" stroke="#3a3a3a"/>
<line x1="965.2" y1="20.92" x2="967.8" y2="20.92" stroke="#3a3a3a"/>
<line x1="965.2" y1="23.75" x2="967.8" y2="23.75" stroke="#3a3a3a"/>
<line x1="965.2" y1="26.59" x2="967.8" y2="26.59" stroke="#3a3a3a"/>
<line x1="965.2" y1="29.42" x2="969.1" y2="29.42" stroke="#111" stroke-width="1"/>
<line x1="965.2" y1="32.26" x2="967.8" y2="32.26" stroke="#3a3a3a"/>
<line x1="965.2" y1="35.09" x2="967.8" y2="35.09" stroke="#3a3a3a"/>
<line x1="965.2" y1="37.93" x2="967.8" y2="37.93" stroke="#3a3a3a"/>
<line x1="965.2" y1="40.76" x2="967.8" y2="40.76" stroke="#3a3a3a"/>
<line x1="965.2" y1="43.59" x2="969.1" y2="43.59" stroke="#111" stroke-width="1"/>
<line x1="965.2" y1="46.43" x2="967.8" y2="46.43" stroke="#3a3a3a"/>
<line x1="965.2" y1="49.26" x2="967.8" y2="49.26" stroke="#3a3a3a"/>
<line x1="965.2" y1="52.1" x2="967.8" y2="52.1" stroke="#3a3a3a"/>
<line x1="965.2" y1="54.93" x2="967.8" y2="54.93" stroke="#3a3a3a"/>
<line x1="965.2" y1="57.77" x2="969.1" y2="57.77" stroke="#111" stroke-width="1"/>
<line x1="965.2" y1="60.6" x2="967.8" y2="60.6" stroke="#3a3a3a"/>
<line x1="965.2" y1="63.43" x2="967.8" y2="63.43" stroke="#3a3a3a"/>
<line x1="965.2" y1="66.27" x2="967.8" y2="66.27" stroke="#3a3a3a"/>
<line x1="965.2" y1="69.1" x2="967.8" y2="69.1" stroke="#3a3a3a"/>
<line x1="965.2" y1="71.94" x2="969.1" y2="71.94" stroke="#111" stroke-width="1"/>
<line x1="965.2" y1="74.77" x2="967.8" y2="74.77" stroke="#3a3a3a"/>
<line x1="965.2" y1="77.61" x2="967.8" y2="77.61" stroke="#3a3a3a"/>
<line x1="965.2" y1="80.44" x2="967.8" y2="80.44" stroke="#3a3a3a"/>
<line x1="965.2" y1="83.28" x2="967.8" y2="83.28" stroke="#3a3a3a"/>
<line x1="965.2" y1="86.11" x2="969.1" y2="86.11" stroke="#111" stroke-width="1"/>
<line x1="965.2" y1="88.94" x2="967.8" y2="88.94" stroke="#3a3a3a"/>
<line x1="965.2" y1="91.78" x2="967.8" y2="91.78" stroke="#3a3a3a"/>
<line x1="965.2" y1="94.61" x2="967.8" y2="94.61" stroke="#3a3a3a"/>
<line x1="965.2" y1="97.45" x2="967.8" y2="97.45" stroke="#3a3a3a"/>
<line x1="965.2" y1="100.28" x2="969.1" y2="100.28" stroke="#111" stroke-width="1"/>
<line x1="965.2" y1="103.12" x2="967.8" y2="103.12" stroke="#3a3a3a"/>
<line x1="965.2" y1="105.95" x2="967.8" y2="105.95" stroke="#3a3a3a"/>
<line x1="965.2" y1="108.79" x2="967.8" y2="108.79" stroke="#3a3a3a"/>
<line x1="965.2" y1="111.62" x2="967.8" y2="111.62" stroke="#3a3a3a"/>
<line x1="965.2" y1="114.45" x2="969.1" y2="114.45" stroke="#111" stroke-width="1"/>
<line x1="965.2" y1="117.29" x2="967.8" y2="117.29" stroke="#3a3a3a"/>
<line x1="965.2" y1="120.12" x2="967.8" y2="120.12" stroke="#3a3a3a"/>
<line x1="965.2" y1="122.96" x2="967.8" y2="122.96" stroke="#3a3a3a"/>
<line x1="965.2" y1="125.79" x2="967.8" y2="125.79" stroke="#3a3a3a"/>
<line x1="965.2" y1="128.63" x2="969.1" y2="128.63" stroke="#111" stroke-width="1"/>
<line x1="965.2" y1="131.46" x2="967.8" y2="131.46" stroke="#3a3a3a"/>
<line x1="965.2" y1="134.29" x2="967.8" y2="134.29" stroke="#3a3a3a"/>
<line x1="965.2" y1="137.13" x2="967.8" y2="137.13" stroke="#3a3a3a"/>
<line x1="965.2" y1="139.96" x2="967.8" y2="139.96" stroke="#3a3a3a"/>
<line x1="965.2" y1="142.8" x2="969.1" y2="142.8" stroke="#111" stroke-width="1"/>
<line x1="965.2" y1="145.63" x2="967.8" y2="145.63" stroke="#3a3a3a"/>
<line x1="965.2" y1="148.47" x2="967.8" y2="148.47" stroke="#3a3a3a"/>
<line x1="965.2" y1="151.3" x2="967.8" y2="151.3" stroke="#3a3a3a"/>
<line x1="965.2" y1="154.14" x2="967.8" y2="154.14" stroke="#3a3a3a"/>
<line x1="965.2" y1="156.97" x2="969.1" y2="156.97" stroke="#111" stroke-width="1"/>
<line x1="965.2" y1="159.8" x2="967.8" y2="159.8" stroke="#3a3a3a"/>
<line x1="965.2" y1="162.64" x2="967.8" y2="162.64" stroke="#3a3a3a"/>
<line x1="965.2" y1="165.47" x2="967.8" y2="165.47" stroke="#3a3a3a"/>
<line x1="965.2" y1="168.31" x2="967.8" y2="168.31" stroke="#3a3a3a"/>
<line x1="965.2" y1="171.14" x2="969.1" y2="171.14" stroke="#111" stroke-width="1"/>
<line x1="965.2" y1="173.98" x2="967.8" y2="173.98" stroke="#3a3a3a"/>
<line x1="965.2" y1="176.81" x2="967.8" y2="176.81" stroke="#3a3a3a"/>
<line x1="965.2" y1="179.65" x2="967.8" y2="179.65" stroke="#3a3a3a"/>
<line x1="965.2" y1="182.48" x2="967.8" y2="182.48" stroke="#3a3a3a"/>
<line x1="965.2" y1="185.31" x2="969.1" y2="185.31" stroke="#111" stroke-width="1"/>
<line x1="965.2" y1="188.15" x2="967.8" y2="188.15" stroke="#3a3a3a"/>
<line x1="965.2" y1="190.98" x2="967.8" y2="190.98" stroke="#3a3a3a"/>
<line x1="965.2" y1="193.82" x2="967.8" y2="193.82" stroke="#3a3a3a"/>
<line x1="965.2" y1="196.65" x2="967.8" y2="196.65" stroke="#3a3a3a"/>
<line x1="965.2" y1="199.49" x2="969.1" y2="199.49" stroke="#111" stroke-width="1"/>
<line x1="965.2" y1="202.32" x2="967.8" y2="202.32" stroke="#3a3a3a"/>
<line x1="965.2" y1="205.15" x2="967.8" y2="205.15" stroke="#3a3a3a"/>
<line x1="965.2" y1="207.99" x2="967.8" y2="207.99" stroke="#3a3a3a"/>
<line x1="965.2" y1="210.82" x2="967.8" y2="210.82" stroke="#3a3a3a"/>
<line x1="965.2" y1="213.66" x2="969.1" y2="213.66" stroke="#111" stroke-width="1"/>
<line x1="965.2" y1="216.49" x2="967.8" y2="216.49" stroke="#3a3a3a"/>
<line x1="965.2" y1="219.33" x2="967.8" y2="219.33" stroke="#3a3a3a"/>
<line x1="965.2" y1="222.16" x2="967.8" y2="222.16" stroke="#3a3a3a"/>
<line x1="965.2" y1="225" x2="967.8" y2="225" stroke="#3a3a3a"/>
<line x1="965.2" y1="227.83" x2="969.1" y2="227.83" stroke="#111" stroke-width="1"/>
<line x1="965.2" y1="230.66" x2="967.8" y2="230.66" stroke="#3a3a3a"/>
<line x1="965.2" y1="233.5" x2="967.8" y2="233.5" stroke="#3a3a3a"/>
<line x1="965.2" y1="236.33" x2="967.8" y2="236.33" stroke="#3a3a3a"/>
<line x1="965.2" y1="239.17" x2="967.8" y2="239.17" stroke="#3a3a3a"/>
<line x1="965.2" y1="242" x2="969.1" y2="242" stroke="#111" stroke-width="1"/>
<line x1="965.2" y1="244.84" x2="967.8" y2="244.84" stroke="#3a3a3a"/>
<line x1="965.2" y1="247.67" x2="967.8" y2="247.67" stroke="#3a3a3a"/>
<line x1="965.2" y1="250.51" x2="967.8" y2="250.51" stroke="#3a3a3a"/>
<line x1="965.2" y1="253.34" x2="967.8" y2="253.34" stroke="#3a3a3a"/>
<line x1="965.2" y1="256.17" x2="969.1" y2="256.17" stroke="#111" stroke-width="1"/>
<line x1="965.2" y1="259.01" x2="967.8" y2="259.01" stroke="#3a3a3a"/>
<line x1="965.2" y1="261.84" x2="967.8" y2="261.84" stroke="#3a3a3a"/>
<line x1="965.2" y1="264.68" x2="967.8" y2="264.68" stroke="#3a3a3a"/>
<line x1="965.2" y1="267.51" x2="967.8" y2="267.51" stroke="#3a3a3a"/>
<line x1="965.2" y1="270.35" x2="969.1" y2="270.35" stroke="#111" stroke-width="1"/>
<line x1="965.2" y1="273.18" x2="967.8" y2="273.18" stroke="#3a3a3a"/>
<line x1="965.2" y1="276.01" x2="967.8" y2="276.01" stroke="#3a3a3a"/>
<line x1="965.2" y1="278.85" x2="967.8" y2="278.85" stroke="#3a3a3a"/>
<line x1="965.2" y1="281.68" x2="967.8" y2="281.68" stroke="#3a3a3a"/>
<line x1="965.2" y1="284.52" x2="969.1" y2="284.52" stroke="#111" stroke-width="1"/>
<line x1="965.2" y1="287.35" x2="967.8" y2="287.35" stroke="#3a3a3a"/>
<line x1="965.2" y1="290.19" x2="967.8" y2="290.19" stroke="#3a3a3a"/>
<line x1="965.2" y1="293.02" x2="967.8" y2="293.02" stroke="#3a3a3a"/>
<line x1="965.2" y1="295.86" x2="967.8" y2="295.86" stroke="#3a3a3a"/>
<line x1="965.2" y1="298.69" x2="969.1" y2="298.69" stroke="#111" stroke-width="1"/>
<line x1="965.2" y1="301.52" x2="967.8" y2="301.52" stroke="#3a3a3a"/>
<line x1="965.2" y1="304.36" x2="967.8" y2="304.36" stroke="#3a3a3a"/>
<line x1="965.2" y1="307.19" x2="967.8" y2="307.19" stroke="#3a3a3a"/>
<line x1="965.2" y1="310.03" x2="967.8" y2="310.03" stroke="#3a3a3a"/>
<line x1="965.2" y1="312.86" x2="969.1" y2="312.86" stroke="#111" stroke-width="1"/>
<line x1="965.2" y1="315.7" x2="967.8" y2="315.7" stroke="#3a3a3a"/>
<line x1="965.2" y1="318.53" x2="967.8" y2="318.53" stroke="#3a3a3a"/>
<line x1="965.2" y1="321.37" x2="967.8" y2="321.37" stroke="#3a3a3a"/>
<line x1="965.2" y1="324.2" x2="967.8" y2="324.2" stroke="#3a3a3a"/>
<line x1="965.2" y1="327.03" x2="969.1" y2="327.03" stroke="#111" stroke-width="1"/>
<line x1="965.2" y1="329.87" x2="967.8" y2="329.87" stroke="#3a3a3a"/>
<line x1="965.2" y1="332.7" x2="967.8" y2="332.7" stroke="#3a3a3a"/>
<line x1="965.2" y1="335.54" x2="967.8" y2="335.54" stroke="#3a3a3a"/>
<line x1="965.2" y1="338.37" x2="967.8" y2="338.37" stroke="#3a3a3a"/>
<line x1="965.2" y1="341.21" x2="969.1" y2="341.21" stroke="#111" stroke-width="1"/>
<line x1="965.2" y1="344.04" x2="967.8" y2="344.04" stroke="#3a3a3a"/>
<line x1="965.2" y1="346.87" x2="967.8" y2="346.87" stroke="#3a3a3a"/>
<line x1="965.2" y1="349.71" x2="967.8" y2="349.71" stroke="#3a3a3a"/>
<line x1="965.2" y1="352.54" x2="967.8" y2="352.54" stroke="#3a3a3a"/>
<line x1="965.2" y1="355.38" x2="969.1" y2="355.38" stroke="#111" stroke-width="1"/>
<line x1="965.2" y1="358.21" x2="967.8" y2="358.21" stroke="#3a3a3a"/>
<line x1="965.2" y1="361.05" x2="967.8" y2="361.05" stroke="#3a3a3a"/>
<line x1="965.2" y1="363.88" x2="967.8" y2="363.88" stroke="#3a3a3a"/>
<line x1="965.2" y1="366.72" x2="967.8" y2="366.72" stroke="#3a3a3a"/>
<line x1="965.2" y1="369.55" x2="969.1" y2="369.55" stroke="#111" stroke-width="1"/>
<line x1="965.2" y1="372.38" x2="967.8" y2="372.38" stroke="#3a3a3a"/>
<line x1="965.2" y1="375.22" x2="967.8" y2="375.22" stroke="#3a3a3a"/>
<line x1="965.2" y1="378.05" x2="967.8" y2="378.05" stroke="#3a3a3a"/>
<line x1="965.2" y1="380.89" x2="967.8" y2="380.89" stroke="#3a3a3a"/>
<line x1="965.2" y1="383.72" x2="969.1" y2="383.72" stroke="#111" stroke-width="1"/>
<line x1="965.2" y1="386.56" x2="967.8" y2="386.56" stroke="#3a3a3a"/>
<line x1="965.2" y1="389.39" x2="967.8" y2="389.39" stroke="#3a3a3a"/>
<line x1="965.2" y1="392.23" x2="967.8" y2="392.23" stroke="#3a3a3a"/>
<line x1="965.2" y1="395.06" x2="967.8" y2="395.06" stroke="#3a3a3a"/>
<line x1="965.2" y1="397.89" x2="969.1" y2="397.89" stroke="#111" stroke-width="1"/>
<line x1="965.2" y1="400.73" x2="967.8" y2="400.73" stroke="#3a3a3a"/>
<line x1="965.2" y1="403.56" x2="967.8" y2="403.56" stroke="#3a3a3a"/>
<line x1="965.2" y1="406.4" x2="967.8" y2="406.4" stroke="#3a3a3a"/>
<line x1="965.2" y1="409.23" x2="967.8" y2="409.23" stroke="#3a3a3a"/>
<line x1="965.2" y1="412.07" x2="969.1" y2="412.07" stroke="#111" stroke-width="1"/>
<line x1="965.2" y1="414.9" x2="967.8" y2="414.9" stroke="#3a3a3a"/>
<line x1="965.2" y1="417.73" x2="967.8" y2="417.73" stroke="#3a3a3a"/>
<line x1="965.2" y1="420.57" x2="967.8" y2="420.57" stroke="#3a3a3a"/>
<line x1="965.2" y1="423.4" x2="967.8" y2="423.4" stroke="#3a3a3a"/>
<line x1="965.2" y1="426.24" x2="969.1" y2="426.24" stroke="#111" stroke-width="1"/>
<line x1="965.2" y1="429.07" x2="967.8" y2="429.07" stroke="#3a3a3a"/>
<line x1="965.2" y1="431.91" x2="967.8" y2="431.91" stroke="#3a3a3a"/>
<line x1="965.2" y1="434.74" x2="967.8" y2="434.74" stroke="#3a3a3a"/>
<line x1="965.2" y1="437.58" x2="967.8" y2="437.58" stroke="#3a3a3a"/>
<line x1="965.2" y1="440.41" x2="969.1" y2="440.41" stroke="#111" stroke-width="1"/>
<line x1="965.2" y1="443.24" x2="967.8" y2="443.24" stroke="#3a3a3a"/>
<line x1="965.2" y1="446.08" x2="967.8" y2="446.08" stroke="#3a3a3a"/>
<line x1="965.2" y1="448.91" x2="967.8" y2="448.91" stroke="#3a3a3a"/>
<line x1="965.2" y1="451.75" x2="967.8" y2="451.75" stroke="#3a3a3a"/>
<line x1="965.2" y1="454.58" x2="969.1" y2="454.58" stroke="#111" stroke-width="1"/>
<line x1="965.2" y1="457.42" x2="967.8" y2="457.42" stroke="#3a3a3a"/>
<line x1="965.2" y1="460.25" x2="967.8" y2="460.25" stroke="#3a3a3a"/>
<line x1="965.2" y1="463.09" x2="967.8" y2="463.09" stroke="#3a3a3a"/>
<line x1="965.2" y1="465.92" x2="967.8" y2="465.92" stroke="#3a3a3a"/>
<line x1="965.2" y1="468.75" x2="969.1" y2="468.75" stroke="#111" stroke-width="1"/>
<line x1="965.2" y1="471.59" x2="967.8" y2="471.59" stroke="#3a3a3a"/>
<line x1="965.2" y1="474.42" x2="967.8" y2="474.42" stroke="#3a3a3a"/>
<line x1="965.2" y1="477.26" x2="967.8" y2="477.26" stroke="#3a3a3a"/>
<line x1="965.2" y1="480.09" x2="967.8" y2="480.09" stroke="#3a3a3a"/>
<line x1="965.2" y1="482.93" x2="969.1" y2="482.93" stroke="#111" stroke-width="1"/>
<line x1="965.2" y1="485.76" x2="967.8" y2="485.76" stroke="#3a3a3a"/>
<line x1="965.2" y1="488.59" x2="967.8" y2="488.59" stroke="#3a3a3a"/>
<line x1="965.2" y1="491.43" x2="967.8" y2="491.43" stroke="#3a3a3a"/>
<line x1="965.2" y1="494.26" x2="967.8" y2="494.26" stroke="#3a3a3a"/>
<line x1="965.2" y1="497.1" x2="969.1" y2="497.1" stroke="#111" stroke-width="1"/>
<line x1="965.2" y1="499.93" x2="967.8" y2="499.93" stroke="#3a3a3a"/>
<line x1="965.2" y1="502.77" x2="967.8" y2="502.77" stroke="#3a3a3a"/>
<line x1="965.2" y1="505.6" x2="967.8" y2="505.6" stroke="#3a3a3a"/>
<line x1="965.2" y1="508.44" x2="967.8" y2="508.44" stroke="#3a3a3a"/>
<line x1="965.2" y1="511.27" x2="969.1" y2="511.27" stroke="#111" stroke-width="1"/>
<line x1="965.2" y1="514.1" x2="967.8" y2="514.1" stroke="#3a3a3a"/>
<line x1="965.2" y1="516.94" x2="967.8" y2="516.94" stroke="#3a3a3a"/>
<line x1="965.2" y1="519.77" x2="967.8" y2="519.77" stroke="#3a3a3a"/>
<line x1="965.2" y1="522.61" x2="967.8" y2="522.61" stroke="#3a3a3a"/>
<line x1="965.2" y1="525.44" x2="969.1" y2="525.44" stroke="#111" stroke-width="1"/>
<line x1="965.2" y1="528.28" x2="967.8" y2="528.28" stroke="#3a3a3a"/>
<line x1="965.2" y1="531.11" x2="967.8" y2="531.11" stroke="#3a3a3a"/>
<line x1="965.2" y1="533.95" x2="967.8" y2="533.95" stroke="#3a3a3a"/>
<line x1="965.2" y1="536.78" x2="967.8" y2="536.78" stroke="#3a3a3a"/>
<line x1="965.2" y1="539.61" x2="969.1" y2="539.61" stroke="#111" stroke-width="1"/>
<line x1="965.2" y1="542.45" x2="967.8" y2="542.45" stroke="#3a3a3a"/>
<line x1="965.2" y1="545.28" x2="967.8" y2="545.28" stroke="#3a3a3a"/>
<line x1="965.2" y1="548.12" x2="967.8" y2="548.12" stroke="#3a3a3a"/>
<line x1="965.2" y1="550.95" x2="967.8" y2="550.95" stroke="#3a3a3a"/>
<line x1="965.2" y1="553.79" x2="969.1" y2="553.79" stroke="#111" stroke-width="1"/>
<line x1="965.2" y1="556.62" x2="967.8" y2="556.62" stroke="#3a3a3a"/>
<line x1="965.2" y1="559.45" x2="967.8" y2="559.45" stroke="#3a3a3a"/>
<line x1="965.2" y1="562.29" x2="967.8" y2="562.29" stroke="#3a3a3a"/>
<line x1="965.2" y1="565.12" x2="967.8" y2="565.12" stroke="#3a3a3a"/>
<line x1="965.2" y1="567.96" x2="969.1" y2="567.96" stroke="#111" stroke-width="1"/>
<line x1="965.2" y1="570.79" x2="967.8" y2="570.79" stroke="#3a3a3a"/>
<line x1="965.2" y1="573.63" x2="967.8" y2="573.63" stroke="#3a3a3a"/>
<line x1="965.2" y1="576.46" x2="967.8" y2="576.46" stroke="#3a3a3a"/>
<line x1="965.2" y1="579.3" x2="967.8" y2="579.3" stroke="#3a3a3a"/>
<line x1="965.2" y1="582.13" x2="969.1" y2="582.13" stroke="#111" stroke-width="1"/>
<line x1="965.2" y1="584.96" x2="967.8" y2="584.96" stroke="#3a3a3a"/>
<line x1="965.2" y1="587.8" x2="967.8" y2="587.8" stroke="#3a3a3a"/>
<line x1="965.2" y1="590.63" x2="967.8" y2="590.63" stroke="#3a3a3a"/>
<line x1="965.2" y1="593.47" x2="967.8" y2="593.47" stroke="#3a3a3a"/>
<line x1="965.2" y1="596.3" x2="969.1" y2="596.3" stroke="#111" stroke-width="1"/>
<line x1="965.2" y1="599.14" x2="967.8" y2="599.14" stroke="#3a3a3a"/>
<line x1="965.2" y1="601.97" x2="967.8" y2="601.97" stroke="#3a3a3a"/>
<line x1="965.2" y1="604.81" x2="967.8" y2="604.81" stroke="#3a3a3a"/>
</g>
<text x="970.5" y="17.7" font-size="6.3" fill="#1c1c1c" textLength="24.4" lengthAdjust="spacingAndGlyphs">13600,00</text>
<text x="970.5" y="31.87" font-size="6.3" fill="#1c1c1c" textLength="24.4" lengthAdjust="spacingAndGlyphs">13500,00</text>
<text x="970.5" y="46.04" font-size="6.3" fill="#1c1c1c" textLength="24.4" lengthAdjust="spacingAndGlyphs">13400,00</text>
<text x="970.5" y="60.22" font-size="6.3" fill="#1c1c1c" textLength="24.4" lengthAdjust="spacingAndGlyphs">13300,00</text>
<text x="970.5" y="74.39" font-size="6.3" fill="#1c1c1c" textLength="24.4" lengthAdjust="spacingAndGlyphs">13200,00</text>
<text x="970.5" y="88.56" font-size="6.3" fill="#1c1c1c" textLength="24.4" lengthAdjust="spacingAndGlyphs">13100,00</text>
<text x="970.5" y="102.73" font-size="6.3" fill="#1c1c1c" textLength="24.4" lengthAdjust="spacingAndGlyphs">13000,00</text>
<text x="970.5" y="116.9" font-size="6.3" fill="#1c1c1c" textLength="24.4" lengthAdjust="spacingAndGlyphs">12900,00</text>
<text x="970.5" y="131.08" font-size="6.3" fill="#1c1c1c" textLength="24.4" lengthAdjust="spacingAndGlyphs">12800,00</text>
<text x="970.5" y="145.25" font-size="6.3" fill="#1c1c1c" textLength="24.4" lengthAdjust="spacingAndGlyphs">12700,00</text>
<text x="970.5" y="159.42" font-size="6.3" fill="#1c1c1c" textLength="24.4" lengthAdjust="spacingAndGlyphs">12600,00</text>
<text x="970.5" y="173.59" font-size="6.3" fill="#1c1c1c" textLength="24.4" lengthAdjust="spacingAndGlyphs">12500,00</text>
<text x="970.5" y="187.76" font-size="6.3" fill="#1c1c1c" textLength="24.4" lengthAdjust="spacingAndGlyphs">12400,00</text>
<text x="970.5" y="201.94" font-size="6.3" fill="#1c1c1c" textLength="24.4" lengthAdjust="spacingAndGlyphs">12300,00</text>
<text x="970.5" y="216.11" font-size="6.3" fill="#1c1c1c" textLength="24.4" lengthAdjust="spacingAndGlyphs">12200,00</text>
<text x="970.5" y="230.28" font-size="6.3" fill="#1c1c1c" textLength="24.4" lengthAdjust="spacingAndGlyphs">12100,00</text>
<text x="970.5" y="244.45" font-size="6.3" fill="#1c1c1c" textLength="24.4" lengthAdjust="spacingAndGlyphs">12000,00</text>
<text x="970.5" y="258.62" font-size="6.3" fill="#1c1c1c" textLength="24.4" lengthAdjust="spacingAndGlyphs">11900,00</text>
<text x="970.5" y="272.8" font-size="6.3" fill="#1c1c1c" textLength="24.4" lengthAdjust="spacingAndGlyphs">11800,00</text>
<text x="970.5" y="286.97" font-size="6.3" fill="#1c1c1c" textLength="24.4" lengthAdjust="spacingAndGlyphs">11700,00</text>
<text x="970.5" y="301.14" font-size="6.3" fill="#1c1c1c" textLength="24.4" lengthAdjust="spacingAndGlyphs">11600,00</text>
<text x="970.5" y="315.31" font-size="6.3" fill="#1c1c1c" textLength="24.4" lengthAdjust="spacingAndGlyphs">11500,00</text>
<text x="970.5" y="329.48" font-size="6.3" fill="#1c1c1c" textLength="24.4" lengthAdjust="spacingAndGlyphs">11400,00</text>
<text x="970.5" y="343.66" font-size="6.3" fill="#1c1c1c" textLength="24.4" lengthAdjust="spacingAndGlyphs">11300,00</text>
<text x="970.5" y="357.83" font-size="6.3" fill="#1c1c1c" textLength="24.4" lengthAdjust="spacingAndGlyphs">11200,00</text>
<text x="970.5" y="372" font-size="6.3" fill="#1c1c1c" textLength="24.4" lengthAdjust="spacingAndGlyphs">11100,00</text>
<text x="970.5" y="386.17" font-size="6.3" fill="#1c1c1c" textLength="24.4" lengthAdjust="spacingAndGlyphs">11000,00</text>
<text x="970.5" y="400.34" font-size="6.3" fill="#1c1c1c" textLength="24.4" lengthAdjust="spacingAndGlyphs">10900,00</text>
<text x="970.5" y="414.52" font-size="6.3" fill="#1c1c1c" textLength="24.4" lengthAdjust="spacingAndGlyphs">10800,00</text>
<text x="970.5" y="428.69" font-size="6.3" fill="#1c1c1c" textLength="24.4" lengthAdjust="spacingAndGlyphs">10700,00</text>
<text x="970.5" y="442.86" font-size="6.3" fill="#1c1c1c" textLength="24.4" lengthAdjust="spacingAndGlyphs">10600,00</text>
<text x="970.5" y="457.03" font-size="6.3" fill="#1c1c1c" textLength="24.4" lengthAdjust="spacingAndGlyphs">10500,00</text>
<text x="970.5" y="471.2" font-size="6.3" fill="#1c1c1c" textLength="24.4" lengthAdjust="spacingAndGlyphs">10400,00</text>
<text x="970.5" y="485.38" font-size="6.3" fill="#1c1c1c" textLength="24.4" lengthAdjust="spacingAndGlyphs">10300,00</text>
<text x="970.5" y="499.55" font-size="6.3" fill="#1c1c1c" textLength="24.4" lengthAdjust="spacingAndGlyphs">10200,00</text>
<text x="970.5" y="513.72" font-size="6.3" fill="#1c1c1c" textLength="24.4" lengthAdjust="spacingAndGlyphs">10100,00</text>
<text x="970.5" y="527.89" font-size="6.3" fill="#1c1c1c" textLength="24.4" lengthAdjust="spacingAndGlyphs">10000,00</text>
<text x="970.5" y="542.06" font-size="6.3" fill="#1c1c1c" textLength="21.4" lengthAdjust="spacingAndGlyphs">9900,00</text>
<text x="970.5" y="556.24" font-size="6.3" fill="#1c1c1c" textLength="21.4" lengthAdjust="spacingAndGlyphs">9800,00</text>
<text x="970.5" y="570.41" font-size="6.3" fill="#1c1c1c" textLength="21.4" lengthAdjust="spacingAndGlyphs">9700,00</text>
<text x="970.5" y="584.58" font-size="6.3" fill="#1c1c1c" textLength="21.4" lengthAdjust="spacingAndGlyphs">9600,00</text>
<text x="970.5" y="598.75" font-size="6.3" fill="#1c1c1c" textLength="21.4" lengthAdjust="spacingAndGlyphs">9500,00</text>
<text x="966" y="6.3" font-size="6.0" fill="#1c1c1c" textLength="10.6" lengthAdjust="spacingAndGlyphs">EUR</text>
<path d="M966 439.05 L969.6 435.8 L1000 435.8 L1000 442.3 L969.6 442.3 Z" fill="url(#gm)" stroke="#333" stroke-width="0.7"/>
<text x="971.2" y="442.65" font-size="6.2" fill="#1c1c1c" textLength="22.6" lengthAdjust="spacingAndGlyphs">10612,36</text>
<path d="M966 444.2 L969.6 441 L1000 441 L1000 447.4 L969.6 447.4 Z" fill="url(#gm)" stroke="#333" stroke-width="0.7"/>
<text x="971.2" y="446.3" font-size="6.2" fill="#1c1c1c" textLength="22.6" lengthAdjust="spacingAndGlyphs">10580,19</text>
<rect x="0" y="606.8" width="965.4" height="13.2" fill="url(#gb)"/>
<rect x="965.4" y="607.2" width="35" height="12.8" fill="#c3c3c3"/>
<line x1="18.5" y1="606.8" x2="18.5" y2="610.2" stroke="#222" stroke-width="1"/>
<text x="18.7" y="614.9" font-size="5.8" fill="#1c1c1c">Mai</text>
<line x1="102.5" y1="606.8" x2="102.5" y2="610.2" stroke="#222" stroke-width="1"/>
<text x="102.7" y="614.9" font-size="5.8" fill="#1c1c1c">Jun</text>
<line x1="186.5" y1="606.8" x2="186.5" y2="610.2" stroke="#222" stroke-width="1"/>
<text x="186.2" y="614.9" font-size="5.8" fill="#1c1c1c">Jul</text>
<line x1="273.5" y1="606.8" x2="273.5" y2="610.2" stroke="#222" stroke-width="1"/>
<text x="273.4" y="614.9" font-size="5.8" fill="#1c1c1c">Aug</text>
<line x1="365.5" y1="606.8" x2="365.5" y2="610.2" stroke="#222" stroke-width="1"/>
<text x="365.4" y="614.9" font-size="5.8" fill="#1c1c1c">Sep</text>
<line x1="444.5" y1="606.8" x2="444.5" y2="610.2" stroke="#222" stroke-width="1"/>
<text x="444.6" y="614.9" font-size="5.8" fill="#1c1c1c">Okt</text>
<line x1="532.5" y1="606.8" x2="532.5" y2="610.2" stroke="#222" stroke-width="1"/>
<text x="532.2" y="614.9" font-size="5.8" fill="#1c1c1c">Nov</text>
<line x1="619.5" y1="606.8" x2="619.5" y2="610.2" stroke="#222" stroke-width="1"/>
<text x="619.8" y="614.9" font-size="5.8" fill="#1c1c1c">Dez</text>
<line x1="688.5" y1="606.8" x2="688.5" y2="610.2" stroke="#222" stroke-width="1"/>
<text x="688.2" y="614.9" font-size="5.8" fill="#1c1c1c">2019</text>
<line x1="807.5" y1="606.8" x2="807.5" y2="610.2" stroke="#222" stroke-width="1"/>
<text x="807.4" y="614.9" font-size="5.8" fill="#1c1c1c">Feb</text>
<line x1="918.5" y1="606.8" x2="918.5" y2="610.2" stroke="#222" stroke-width="1"/>
<text x="919" y="614.9" font-size="5.8" fill="#1c1c1c">Mrz</text>
<rect x="0" y="0" width="1000" height="0.85" fill="#9aa2a9"/>
<rect x="0" y="0" width="32" height="0.85" fill="#66707a"/>
<line x1="0" y1="1.3" x2="965" y2="1.3" stroke="#deb0b0" stroke-width="0.6"/>
<line x1="0.45" y1="1" x2="0.45" y2="607.2" stroke="#d0a6a6" stroke-width="0.9"/>
<line x1="0" y1="606.8" x2="965" y2="606.8" stroke="#dcaaaa" stroke-width="0.8"/>
<line x1="964.6" y1="1" x2="964.6" y2="607.2" stroke="#e8b4b4" stroke-width="0.75"/>
<path d="M960.6 602.3 H964.3 M960.6 602.3 V606.2 M960.6 606.2 L964.3 602.3" stroke="#444" stroke-width="0.7" fill="none"/>
<path d="M8.2 582.4 H27.6 Q30.8 582.4 30.8 585.6 V602.4 H8.4 Q5.2 602.4 5.2 599.2 V585.4 Q5.2 582.4 8.2 582.4 Z" fill="#ababab"/>
<text class="s" x="7.6" y="599.2" font-size="16" fill="#ffffff" stroke="#ffffff" stroke-width="0.4" textLength="20.8" lengthAdjust="spacingAndGlyphs" style="font-style:normal;font-weight:bold">on</text>
<text class="s" x="31.4" y="598.6" font-size="10.4" fill="#ababab" stroke="#ababab" stroke-width="0.7" textLength="33.6" lengthAdjust="spacingAndGlyphs" style="font-style:normal;font-weight:bold">LINE</text>
<text class="s" x="31.4" y="589.4" font-size="5.6" fill="#ababab" textLength="35.6" lengthAdjust="spacingAndGlyphs" style="font-style:normal;font-weight:bold">Tradesignal<tspan font-size="3.4" dy="-1.6">®</tspan></text>
<rect x="681" y="11.4" width="65.6" height="36.6" rx="3" fill="#000" opacity="0.14" filter="url(#sh)"/>
<rect x="680.4" y="10.5" width="66.6" height="37.4" rx="3" fill="#eeeeee"/>
<line x1="684" y1="22.5" x2="744" y2="22.5" stroke="#dcdcdc" stroke-width="0.8"/>
<text class="s" x="710.4" y="19.6" font-size="7.4" fill="#8a8a8a" text-anchor="middle" style="font-weight:normal">Navigation</text>
<path d="M738.4 15.6 l3.6 3.6 m0 -3.6 l-3.6 3.6" stroke="#8a8a8a" stroke-width="1.1" fill="none"/>
<rect x="687" y="29.6" width="4" height="3" rx="0.6" fill="#505050"/>
<rect x="692.2" y="29.6" width="4" height="3" rx="0.6" fill="#505050"/>
<rect x="697.4" y="29.6" width="4" height="3" rx="0.6" fill="#505050"/>
<rect x="687" y="33.7" width="4" height="3" rx="0.6" fill="#505050"/>
<rect x="692.2" y="33.7" width="4" height="3" rx="0.6" fill="#505050"/>
<rect x="697.4" y="33.7" width="4" height="3" rx="0.6" fill="#505050"/>
<rect x="687" y="37.8" width="4" height="3" rx="0.6" fill="#505050"/>
<rect x="692.2" y="37.8" width="4" height="3" rx="0.6" fill="#505050"/>
<rect x="697.4" y="37.8" width="4" height="3" rx="0.6" fill="#505050"/>
<path d="M708 35.2 L714.6 31.2 V39.2 Z M714.4 35.2 L721 31.2 V39.2 Z" fill="#505050"/>
<path d="M740.6 35.2 L734 31.2 V39.2 Z M734.2 35.2 L727.6 31.2 V39.2 Z" fill="#505050"/>
</svg></body></html>
